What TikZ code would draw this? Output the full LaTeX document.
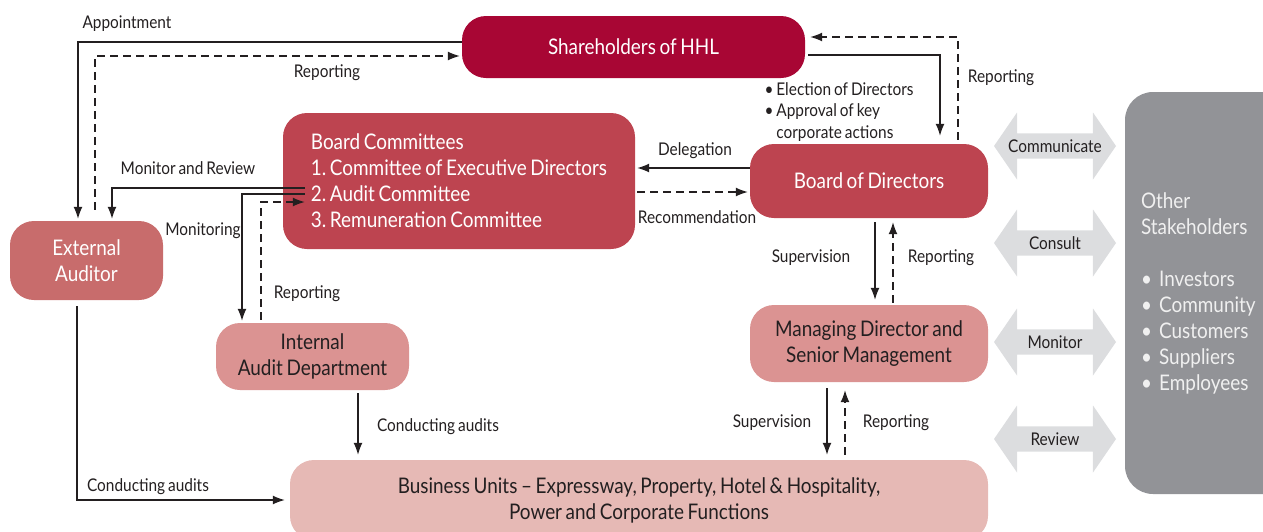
\documentclass[tikz,border=0pt]{standalone}
\usepackage{fontspec}
\setmainfont[FakeStretch=0.88,WordSpace=0.75]{Lato}
\usetikzlibrary{arrows.meta,shapes.arrows}
\frenchspacing

\definecolor{hhlred}{RGB}{168,6,52}
\definecolor{boardred}{RGB}{189,68,80}
\definecolor{auditred}{RGB}{200,108,108}
\definecolor{mgmtpink}{RGB}{219,147,146}
\definecolor{unitpink}{RGB}{230,185,181}
\definecolor{stakegray}{RGB}{146,147,151}
\definecolor{talkgray}{RGB}{220,221,223}
\definecolor{ink}{RGB}{35,31,32}

\tikzset{
  box/.style={rectangle,rounded corners=24pt,inner sep=0pt,align=center,font=\fontsize{21.5}{26}\selectfont},
  link/.style={-{Latex[length=12pt,width=9pt]},line width=1.3pt,draw=ink},
  dlink/.style={link,dash pattern=on 8pt off 5pt},
  lbl/.style={inner sep=0pt,text=ink,font=\fontsize{17.5}{21.5}\selectfont},
  talk/.style={double arrow,fill=talkgray,text=ink,inner sep=0pt,minimum height=122pt,minimum width=67pt,double arrow head extend=11pt,double arrow tip angle=111,font=\fontsize{17.5}{20}\selectfont}
}

\begin{document}
\begin{tikzpicture}[x=1pt,y=-1pt]
\useasboundingbox (0,0) rectangle (1263,531);

\draw(633.5,47) node[box,fill=hhlred,text=white,minimum width=343pt,minimum height=62pt](1){Shareholders of HHL};

\draw(459,181) node[box,fill=boardred,text=white,minimum width=352pt,minimum height=136pt,align=left](2){Board Committees\\
1. Committee of Executive Directors\\
2. Audit Committee\\
3. Remuneration Committee};

\draw(869,181) node[box,fill=boardred,text=white,minimum width=238pt,minimum height=74pt](3){Board of Directors};

\draw(86.5,260.5) node[box,fill=auditred,text=white,minimum width=153pt,minimum height=79pt](4){External\\Auditor};

\draw(312.5,356.5) node[box,fill=mgmtpink,text=ink,minimum width=193pt,minimum height=67pt](5){Internal\\Audit Department};

\draw(869,343.5) node[box,fill=mgmtpink,text=ink,minimum width=238pt,minimum height=77pt](6){Managing Director and\\Senior Management};

\draw(639,500) node[box,fill=unitpink,text=ink,minimum width=698pt,minimum height=80pt](7){Business Units -- Expressway, Property, Hotel \& Hospitality,\\Power and Corporate Functions};

\draw(1213,293) node[box,rounded corners=28pt,fill=stakegray,text=white!94!black,minimum width=176pt,minimum height=402pt,text width=144pt,align=left](8){Other\\Stakeholders\\[26pt]
\textbullet\ Investors\\
\textbullet\ Community\\
\textbullet\ Customers\\
\textbullet\ Suppliers\\
\textbullet\ Employees};

\draw(1055,146) node[talk](9){Communicate};
\draw(1055,243) node[talk](10){Consult};
\draw(1055,342) node[talk](11){Monitor};
\draw(1055,439) node[talk](12){Review};

% labels
\draw(127,24) node[lbl](13){Appointment};
\draw(327,73) node[lbl](14){Reporting};
\draw(188,168) node[lbl](15){Monitor and Review};
\draw(203,231) node[lbl](16){Monitoring};
\draw(307,294) node[lbl](17){Reporting};
\draw(839,112.5) node[lbl,align=left](18){\begin{tabular}{@{}l@{\ }l@{}}\textbullet & Election of Directors\\ \textbullet & Approval of key\\ & corporate actions\end{tabular}};
\draw(695,151) node[lbl](19){Delegation};
\draw(697,217) node[lbl](20){Recommendation};
\draw(1001,78) node[lbl](21){Reporting};
\draw(811,258) node[lbl](22){Supervision};
\draw(941,258) node[lbl](23){Reporting};
\draw(772,423) node[lbl](24){Supervision};
\draw(896,423) node[lbl](25){Reporting};
\draw(438,427) node[lbl](26){Conducting audits};
\draw(148,487) node[lbl](27){Conducting audits};

% connectors
\draw[link] ([yshift=5pt]1.west) -| ([xshift=-8.5pt,yshift=2pt]4.north);
\draw[dlink] ([xshift=8.5pt,yshift=11pt]4.north) |- ([xshift=-2pt,yshift=-9pt]1.west);
\draw[link] ([xshift=22pt,yshift=-7pt]2.west) -| ([xshift=25.5pt,yshift=2pt]4.north);
\draw[link] ([xshift=22pt,yshift=-13pt]2.west) -| ([xshift=-70.5pt,yshift=2pt]5.north);
\draw[dlink] ([xshift=-51.5pt,yshift=3pt]5.north) |- ([xshift=22pt,yshift=-21pt]2.west);
\draw[link] ([xshift=3pt,yshift=-8pt]1.east) -| ([xshift=71pt,yshift=8pt]3.north);
\draw[dlink] ([xshift=89pt,yshift=4pt]3.north) |- ([xshift=5pt,yshift=10pt]1.east);
\draw[link] ([yshift=13pt]3.west) -- ([xshift=2pt,yshift=13pt]2.east);
\draw[dlink] ([xshift=2pt,yshift=-11pt]2.east) -- ([xshift=-2pt,yshift=-11pt]3.west);
\draw[link] ([xshift=6pt,yshift=-4pt]3.south) -- ([xshift=6pt,yshift=5pt]6.north);
\draw[dlink] ([xshift=24pt,yshift=2pt]6.north) -- ([xshift=24pt,yshift=-4pt]3.south);
\draw[link] ([xshift=-42pt,yshift=-6pt]6.south) -- ([xshift=-42pt,yshift=5pt]6.south |- 7.north);
\draw[dlink] ([xshift=-24pt,yshift=5pt]6.south |- 7.north) -- ([xshift=-24pt,yshift=-8pt]6.south);
\draw[link] ([xshift=45.5pt,yshift=-3pt]5.south) -- ([xshift=45.5pt,yshift=5pt]5.south |- 7.north);
\draw[link] ([xshift=-9.5pt,yshift=-6pt]4.south) |- ([xshift=-5pt]7.west);

\end{tikzpicture}
\end{document}
